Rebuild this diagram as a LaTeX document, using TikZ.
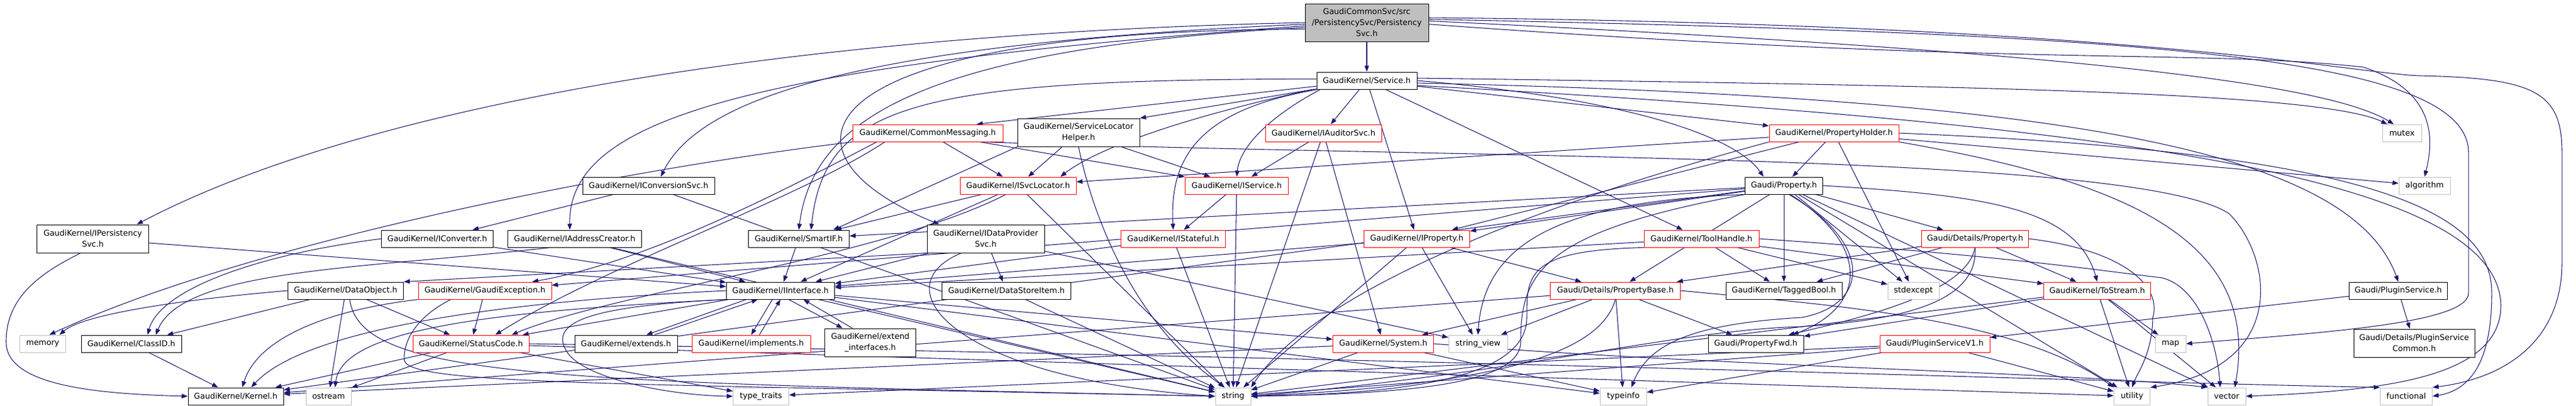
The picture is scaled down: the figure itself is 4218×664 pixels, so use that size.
\documentclass[tikz,border=0pt]{standalone}
\usepackage{fontspec}
\newfontfamily\nfont{DejaVu Sans}
\usetikzlibrary{arrows.meta}
\definecolor{edgec}{HTML}{191970}
\definecolor{graybd}{HTML}{BFBFBF}
\definecolor{topfill}{HTML}{BFBFBF}
\pgfdeclarelayer{edgelayer}
\pgfsetlayers{edgelayer,main}
\begin{document}
\begin{tikzpicture}[x=0.75pt,y=-0.75pt,
  nb/.style={draw=black, fill=white, line width=0.75pt, inner sep=0pt, align=center,
             font=\nfont\fontsize{9.75pt}{13.5pt}\selectfont, minimum height=21pt},
  nr/.style={nb, draw=red},
  ng/.style={nb, draw=graybd},
  two/.style={minimum height=34.5pt},
  bw/.style={minimum width=#1*0.75pt},
  dep/.style={draw=edgec, line width=0.8pt, -{Triangle[length=7.5pt,width=5.5pt]}}]
\useasboundingbox (0,0) rectangle (4218,664);
% ---- row 0/1
\node[nb, fill=topfill, bw=202, minimum height=46.5pt] (T) at (2238,37) {GaudiCommonSvc/src\\/PersistencySvc/Persistency\\Svc.h};
\node[nb,bw=164] (S) at (2238,132) {GaudiKernel/Service.h};
% ---- row 2
\node[nr,bw=246] (CM) at (1519,218) {GaudiKernel/CommonMessaging.h};
\node[nb,bw=200,two] (SLH) at (1766,217) {GaudiKernel/ServiceLocator\\Helper.h};
\node[nr,bw=190] (IAud) at (2167,218) {GaudiKernel/IAuditorSvc.h};
\node[nr,bw=212] (PH) at (3003,218) {GaudiKernel/PropertyHolder.h};
\node[ng,bw=64] (mutex) at (3933,218) {mutex};
% ---- row 3
\node[nb,bw=216] (ICS) at (1062,304) {GaudiKernel/IConversionSvc.h};
\node[nr,bw=190] (ISL) at (1667,304) {GaudiKernel/ISvcLocator.h};
\node[nr,bw=169] (IS) at (2025,304) {GaudiKernel/IService.h};
\node[nb,bw=127] (GP) at (2921,304) {Gaudi/Property.h};
\node[ng,bw=84] (algo) at (3970,304) {algorithm};
% ---- row 4
\node[nb,bw=183,two] (IPS) at (152,391) {GaudiKernel/IPersistency\\Svc.h};
\node[nb,bw=183] (ICv) at (716,391) {GaudiKernel/IConverter.h};
\node[nb,bw=219] (IAC) at (941,391) {GaudiKernel/IAddressCreator.h};
\node[nb,bw=165] (SIF) at (1308,391) {GaudiKernel/SmartIF.h};
\node[nb,bw=192,two] (IDP) at (1614,391) {GaudiKernel/IDataProvider\\Svc.h};
\node[nr,bw=171] (ISt) at (1921,391) {GaudiKernel/IStateful.h};
\node[nr,bw=173] (IP) at (2320,391) {GaudiKernel/IProperty.h};
\node[nr,bw=188] (TH) at (2786,391) {GaudiKernel/ToolHandle.h};
\node[nr,bw=175] (DP) at (3234,391) {Gaudi/Details/Property.h};
% ---- row 5
\node[nb,bw=189] (DO) at (566,476) {GaudiKernel/DataObject.h};
\node[nr,bw=218] (GE) at (794,476) {GaudiKernel/GaudiException.h};
\node[nb,bw=177] (II) at (1278,476) {GaudiKernel/IInterface.h};
\node[nb,bw=211] (DSI) at (1648,476) {GaudiKernel/DataStoreItem.h};
\node[nr,bw=213] (PB) at (2645,476) {Gaudi/Details/PropertyBase.h};
\node[nb,bw=190] (TB) at (2921,476) {GaudiKernel/TaggedBool.h};
\node[ng,bw=84] (stdexcept) at (3133,476) {stdexcept};
\node[nr,bw=175] (TS) at (3434,476) {GaudiKernel/ToStream.h};
\node[nb,bw=161] (PS) at (3927,476) {Gaudi/PluginService.h};
% ---- row 6
\node[ng,bw=75] (memory) at (70,563) {memory};
\node[nb,bw=164] (CID) at (215,563) {GaudiKernel/ClassID.h};
\node[nr,bw=190] (SC) at (771,563) {GaudiKernel/StatusCode.h};
\node[nb,bw=168] (ext) at (1025,563) {GaudiKernel/extends.h};
\node[nr,bw=194] (impl) at (1230,563) {GaudiKernel/implements.h};
\node[nb,bw=149,two] (EI) at (1425,561) {GaudiKernel/extend\\\_interfaces.h};
\node[nr,bw=165] (Sys) at (2265,563) {GaudiKernel/System.h};
\node[ng,bw=96] (sv) at (2420,563) {string\_view};
\node[nb,bw=156] (PF) at (2875,563) {Gaudi/PropertyFwd.h};
\node[nr,bw=180] (PSV1) at (3168,563) {Gaudi/PluginServiceV1.h};
\node[ng,bw=50] (map) at (3554,563) {map};
\node[nb,bw=198,two] (PSC) at (3953,562) {Gaudi/Details/PluginService\\Common.h};
% ---- row 7
\node[nb,bw=156] (Kernel) at (386,649) {GaudiKernel/Kernel.h};
\node[ng,bw=74] (ostream) at (538,649) {ostream};
\node[ng,bw=91] (tt) at (1246,649) {type\_traits};
\node[ng,bw=58] (string) at (2019,649) {string};
\node[ng,bw=76] (typeinfo) at (2658,649) {typeinfo};
\node[ng,bw=59] (utility) at (3491,649) {utility};
\node[ng,bw=62] (vector) at (3646,649) {vector};
\node[ng,bw=85] (functional) at (3940,649) {functional};

\begin{pgfonlayer}{edgelayer}
% straight connectors
\foreach \a/\b in {T/S, S/IAud, S/IP, S/TH, S/PH, IPS/II, ICS/ICv, ICS/string, ICv/II,
  IAC/II, IAC/string, SIF/II, IDP/DSI, IDP/II, IDP/sv, DSI/string, DO/CID, DO/ostream,
  DO/SC, GE/SC, CID/Kernel, SC/Kernel, SC/ostream, SC/tt, SC/utility, II/SC, II/Sys,
  II/typeinfo, II/string, Sys/Kernel, Sys/string, Sys/typeinfo, CM/ISL, CM/IS, SLH/ISL,
  SLH/IS, ISL/II, ISL/SIF, ISL/string, IS/ISt, IS/string, ISt/II, ISt/string, IAud/IS,
  IAud/string, IAud/Sys, IP/II, IP/PB, IP/string, IP/sv, TH/TB, TH/stdexcept, TH/TS, TH/II,
  PH/GP, PH/stdexcept, PH/algo, PH/ISL, PH/IP, GP/SIF, GP/GE, GP/Kernel, GP/IP, GP/DP,
  GP/PB, GP/TB, GP/stdexcept, GP/utility, GP/vector, DP/TB, DP/TS, DP/PB, PB/PF,
  PB/typeinfo, PB/sv, PB/Sys, PB/Kernel, TS/map, TS/utility, TS/vector, TS/PF, TS/string,
  PS/PSV1, PS/PSC, PSV1/string, PSV1/typeinfo, PSV1/utility, PSV1/tt}
  \draw[dep] (\a) -- (\b);
% top node, curved
\draw[dep] (T.west) .. controls (1300,55) and (600,170) .. ([xshift=-15pt]IPS.north east);
\draw[dep] ([yshift=-2pt]T.west) .. controls (1450,70) and (1150,150) .. ([xshift=15pt]ICS.north);
\draw[dep] ([yshift=-4pt]T.west) .. controls (1200,110) and (930,200) .. ([xshift=-6pt]IAC.north);
\draw[dep] ([yshift=-6pt]T.west) .. controls (1500,80) and (1330,200) .. (SIF.north);
\draw[dep] ([yshift=-8pt]T.west) .. controls (1300,50) and (1250,250) .. ([xshift=-57pt]IDP.north);
\draw[dep] ([yshift=2pt]T.east) .. controls (3300,80) and (3800,130) .. ([xshift=-10pt]mutex.north);
\draw[dep] ([yshift=-2pt]T.east) .. controls (3300,110) and (3600,80) .. (3870,110)
  .. controls (3990,150) and (3985,230) .. (algo.north);
\draw[dep] ([yshift=4pt]T.east) .. controls (3500,55) and (4042,90) .. (4042,250) -- (4042,480)
  .. controls (4042,530) and (3800,545) .. (map.east);
\draw[dep] ([yshift=6pt]T.east) .. controls (3500,40) and (3850,120) .. (3961,124)
  .. controls (4150,128) and (4195,150) .. (4195,250) -- (4195,430)
  .. controls (4195,560) and (4100,620) .. (functional.north east);
% Service.h
\draw[dep] (S) -- ([xshift=60pt]CM.north);
\draw[dep] (S) -- (SLH.north east);
\draw[dep] ([xshift=-5pt]S.south west) .. controls (1950,190) and (1800,240) .. ([xshift=52pt]ISL.north);
\draw[dep] ([xshift=5pt]S.south west) .. controls (2080,190) and (2030,240) .. (IS.north);
\draw[dep] ([xshift=2pt]S.south west) .. controls (1960,180) and (1915,260) .. (ISt.north);
\draw[dep] (S.east) .. controls (2650,160) and (2840,220) .. ([xshift=-25pt]GP.north);
\draw[dep] ([yshift=-3pt]S.east) .. controls (3400,160) and (3850,250) .. (PS.north);
\draw[dep] ([yshift=3pt]S.east) .. controls (3200,140) and (3800,150) .. ([xshift=-18pt]mutex.north);
\draw[dep] ([yshift=-6pt]S.east) .. controls (3400,200) and (4090,280) .. (4095,500)
  .. controls (4095,620) and (3900,640) .. (vector.east);
\draw[dep] ([yshift=2pt]S.west) .. controls (1500,130) and (1350,170) .. ([xshift=15pt]SIF.north);
% left part
\draw[dep] ([xshift=-15pt]IPS.south) .. controls (60,450) and (10,490) .. (10,560)
  .. controls (10,630) and (150,645) .. (Kernel.west);
\draw[dep] (ICv.west) .. controls (400,420) and (260,480) .. ([xshift=20pt]CID.north);
\draw[dep] ([xshift=-30pt]IAC.south) .. controls (600,440) and (300,440) .. ([xshift=30pt]CID.north);
\draw[dep] (IDP.south west) -- (DO.north east);
\draw[dep] ([xshift=-30pt]IDP.south) .. controls (1440,470) and (1560,620) .. (string.west);
\draw[dep] (DO.west) .. controls (250,495) and (130,520) .. ([xshift=-8pt]memory.north east);
\draw[dep] ([xshift=5pt]DO.south) .. controls (590,620) and (900,625) .. (string.west);
\draw[dep] (GE.south west) .. controls (520,510) and (420,560) .. ([xshift=8pt]Kernel.north);
\draw[dep] ([xshift=-42pt]GE.south) .. controls (680,520) and (660,560) .. (662,590)
  .. controls (670,630) and (1000,628) .. (string.west);
\draw[dep] (SC.east) .. controls (2500,590) and (3400,625) .. (functional.north west);
\draw[dep] (II.west) .. controls (700,500) and (480,560) .. ([xshift=19pt]Kernel.north);
\draw[dep] (II.south west) .. controls (800,510) and (560,540) .. ([xshift=8pt]ostream.north);
\draw[dep] (II.south west) .. controls (1000,500) and (900,520) .. (925,570)
  .. controls (945,620) and (1100,648) .. (tt.west);
\draw[dep] ([xshift=-42pt]II.south) -- ([xshift=25pt]ext.north);
\draw[dep] ([xshift=35pt]ext.north) -- ([xshift=-28pt]II.south);
\draw[dep] ([xshift=-10pt]II.south) -- (impl.north);
\draw[dep] ([xshift=10pt]impl.north) -- (II.south);
\draw[dep] ([xshift=10pt]II.south) -- ([xshift=-34pt]EI.north);
\draw[dep] ([xshift=-22pt]EI.north) -- ([xshift=28pt]II.south);
\draw[dep] (Sys.east) .. controls (2800,600) and (3400,610) .. (vector.north west);
% CommonMessaging, ServiceLocatorHelper, ISvcLocator
\draw[dep] (CM.south west) .. controls (1000,280) and (400,400) .. ([xshift=8pt]memory.north);
\draw[dep] ([xshift=30pt]CM.south west) .. controls (1250,330) and (1050,430) .. ([xshift=58pt]GE.north);
\draw[dep] ([xshift=40pt]CM.south west) .. controls (1300,330) and (1000,430) .. ([xshift=30pt]SC.north);
\draw[dep] ([xshift=-25pt]CM.south east) .. controls (2400,260) and (3500,250) .. (3650,350)
  .. controls (3720,420) and (3750,600) .. (utility.north east);
\draw[dep] (SLH.south west) -- ([xshift=-20pt]SIF.north east);
\draw[dep] (SLH.south) .. controls (1795,380) and (1870,540) .. ([xshift=-10pt]string.north);
\draw[dep] ([xshift=-15pt]ISL.south) .. controls (1450,420) and (1000,480) .. ([xshift=50pt]SC.north);
% right part
\draw[dep] (TH.south west) .. controls (2500,410) and (2500,450) .. (2500,520)
  .. controls (2500,620) and (2300,645) .. (string.east);
\draw[dep] (TH.east) .. controls (3300,420) and (3450,445) .. (3540,455)
  .. controls (3600,470) and (3630,560) .. ([xshift=-8pt]vector.north);
\draw[dep] (GP.south west) .. controls (2520,380) and (2490,450) .. (2490,560)
  .. controls (2490,630) and (2300,645) .. (string.east);
\draw[dep] (GP.south west) .. controls (2550,330) and (2430,400) .. (sv.north);
\draw[dep] ([xshift=8pt]GP.south) .. controls (3060,400) and (3060,500) .. ([xshift=45pt]PF.north);
\draw[dep] ([xshift=6pt]GP.south) .. controls (3070,400) and (3060,500) .. (2950,520)
  .. controls (2780,530) and (2700,560) .. ([xshift=10pt]typeinfo.north);
\draw[dep] (GP.east) .. controls (3250,320) and (3400,340) .. (TS.north);
\draw[dep] (DP.south) .. controls (3220,480) and (3050,520) .. ([xshift=40pt]PF.north);
\draw[dep] (DP.south) .. controls (3240,500) and (3100,525) .. (2950,535)
  .. controls (2750,540) and (2500,610) .. (string.east);
\draw[dep] (DP.east) .. controls (3480,410) and (3540,470) .. (3525,520)
  .. controls (3524,580) and (3500,610) .. (utility.north);
\draw[dep] (PB.south) .. controls (2620,580) and (2450,630) .. (string.east);
\draw[dep] (PB.east) .. controls (3000,500) and (3300,520) .. (utility.north west);
\draw[dep] (PH.south west) .. controls (2500,340) and (2150,480) .. (string.north east);
\draw[dep] (PH.south east) .. controls (3500,300) and (3700,400) .. ([xshift=10pt]vector.north);
\draw[dep] (PH.east) .. controls (3900,250) and (4080,350) .. (4080,480)
  .. controls (4080,600) and (4040,640) .. (functional.east);
\end{pgfonlayer}
\end{tikzpicture}
\end{document}
